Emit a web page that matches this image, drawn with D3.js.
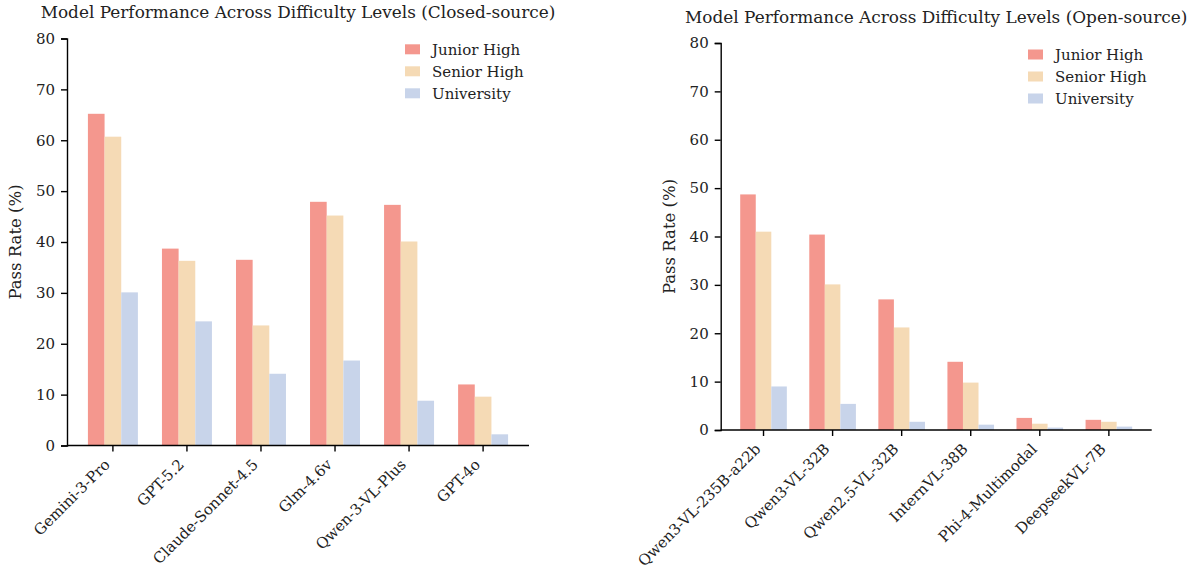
<!DOCTYPE html>
<html>
<head>
<meta charset="utf-8">
<script src="https://cdn.jsdelivr.net/npm/d3@7"></script>
<style>
  body { margin: 0; background: #fff; }
  svg text { font-family: "DejaVu Serif", serif; fill: #222; }
</style>
</head>
<body>
<svg id="chart" width="1195" height="570"></svg>
<script>
// data
var series = ["Junior High", "Senior High", "University"];
var colors = ["#F4978E", "#F5DAB5", "#C8D4EA"];
var yTicks = [0, 10, 20, 30, 40, 50, 60, 70, 80];

var closedModels = ["Gemini-3-Pro", "GPT-5.2", "Claude-Sonnet-4.5", "Glm-4.6v", "Qwen-3-VL-Plus", "GPT-4o"];
var closedJunior = [65.2, 38.7, 36.5, 47.9, 47.3, 12.0];
var closedSenior = [60.7, 36.3, 23.6, 45.2, 40.1, 9.6];
var closedUniv   = [30.1, 24.4, 14.1, 16.7, 8.8, 2.2];

var openModels = ["Qwen3-VL-235B-a22b", "Qwen3-VL-32B", "Qwen2.5-VL-32B", "InternVL-38B", "Phi-4-Multimodal", "DeepseekVL-7B"];
var openJunior = [48.7, 40.4, 27.0, 14.1, 2.5, 2.1];
var openSenior = [41.0, 30.1, 21.2, 9.8, 1.3, 1.7];
var openUniv   = [9.0, 5.4, 1.7, 1.1, 0.5, 0.7];

var svg = d3.select('#chart');

function drawPanel(p) {
  var g = svg.append('g');

  var x = d3.scaleBand()
    .domain(p.models)
    .range([p.left, p.right])
    .paddingInner(0.325)
    .paddingOuter(0.2825);
  var xs = d3.scaleBand()
    .domain(series)
    .range([0, x.bandwidth()]);
  var y = d3.scaleLinear()
    .domain([0, 80])
    .range([p.bottom, p.top]);

  var rows = p.models.map(function(m, i) {
    return { model: m, values: [p.junior[i], p.senior[i], p.univ[i]] };
  });

  var groups = g.selectAll('.grp')
    .data(rows)
    .enter()
    .append('g')
    .attr('transform', function(d) { return 'translate(' + x(d.model) + ',0)'; });

  groups.selectAll('rect')
    .data(function(d) { return d.values.map(function(v, k) { return { s: series[k], v: v, k: k }; }); })
    .enter()
    .append('rect')
    .attr('x', function(d) { return xs(d.s); })
    .attr('y', function(d) { return y(d.v); })
    .attr('width', xs.bandwidth())
    .attr('height', function(d) { return y(0) - y(d.v); })
    .attr('fill', function(d) { return colors[d.k]; });

  // y axis
  var yAxis = g.append('g')
    .attr('transform', 'translate(' + p.left + ',0)')
    .call(d3.axisLeft(y).tickValues(yTicks).tickSize(6).tickPadding(6));
  yAxis.select('.domain').attr('stroke', '#000').attr('stroke-width', 1.4);
  yAxis.selectAll('.tick line').attr('stroke', '#000').attr('stroke-width', 1.4);
  yAxis.selectAll('.tick text')
    .attr('font-size', 15)
    .attr('fill', '#222');

  // x axis
  var xAxis = g.append('g')
    .attr('transform', 'translate(0,' + p.bottom + ')')
    .call(d3.axisBottom(x).tickSize(6).tickSizeOuter(0));
  xAxis.select('.domain').attr('stroke', '#000').attr('stroke-width', 1.4)
    .attr('d', 'M' + p.left + ',0H' + p.right);
  xAxis.selectAll('.tick line').attr('stroke', '#000').attr('stroke-width', 1.4);
  xAxis.selectAll('.tick text')
    .attr('font-size', 15)
    .attr('fill', '#222')
    .attr('y', null).attr('dy', null)
    .attr('text-anchor', 'end')
    .attr('transform', 'translate(-2,20) rotate(-45)');

  // title
  g.append('text')
    .attr('x', (p.left + p.right) / 2)
    .attr('y', p.top - 20.5)
    .attr('text-anchor', 'middle')
    .attr('font-size', 16.9)
    .text(p.title);

  // y label
  g.append('text')
    .attr('transform', 'translate(' + p.ylabX + ',' + (p.top + p.bottom) / 2 + ') rotate(-90)')
    .attr('text-anchor', 'middle')
    .attr('font-size', 16.5)
    .text('Pass Rate (%)');

  // legend
  var leg = g.append('g')
    .attr('transform', 'translate(' + p.legX + ',' + p.legY + ')');
  var items = leg.selectAll('g')
    .data(series)
    .enter()
    .append('g')
    .attr('transform', function(d, i) { return 'translate(0,' + i * 22 + ')'; });
  items.append('rect')
    .attr('x', 0).attr('y', -5)
    .attr('width', 15).attr('height', 10)
    .attr('fill', function(d, i) { return colors[i]; });
  items.append('text')
    .attr('x', 27)
    .attr('y', 0)
    .attr('dy', '0.35em')
    .attr('font-size', 15)
    .text(function(d) { return d; });
}

drawPanel({
  models: closedModels, junior: closedJunior, senior: closedSenior, univ: closedUniv,
  left: 67, right: 529, top: 38.5, bottom: 445.5,
  title: 'Model Performance Across Difficulty Levels (Closed-source)',
  ylabX: 21, legX: 405, legY: 49.3
});

drawPanel({
  models: openModels, junior: openJunior, senior: openSenior, univ: openUniv,
  left: 720.7, right: 1151.7, top: 43, bottom: 430,
  title: 'Model Performance Across Difficulty Levels (Open-source)',
  ylabX: 675, legX: 1028, legY: 54.5
});
</script>
</body>
</html>
